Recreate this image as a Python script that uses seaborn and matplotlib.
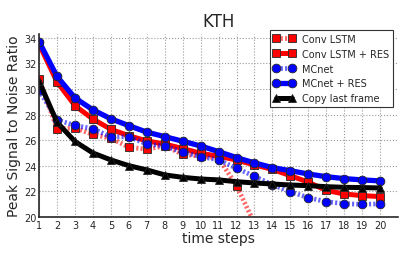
import numpy as np
import pandas as pd
import matplotlib
matplotlib.use("Agg")
import matplotlib.pyplot as plt
import seaborn as sns

# PSNR per predicted time step on KTH
steps = list(range(1, 21))
conv_lstm = [30.8, 26.9, 26.95, 26.45, 26.15, 25.45, 25.3, 25.55, 24.9, 24.75,
             24.6, 22.45, 19.5]
conv_lstm_res = [33.5, 30.55, 28.7, 27.65, 26.85, 26.35, 25.95, 25.7, 25.35, 24.98,
                 24.75, 24.45, 24.07, 23.72, 23.23, 22.72, 22.08, 21.8, 21.67, 21.6]
mcnet = [29.9, 27.6, 27.15, 26.9, 26.25, 26.28, 25.7, 25.55, 25.08, 24.72,
         24.46, 23.81, 23.18, 22.52, 21.98, 21.51, 21.2, 21.04, 20.99, 21.03]
mcnet_res = [33.7, 30.98, 29.3, 28.37, 27.67, 27.14, 26.63, 26.28, 25.92, 25.55,
             25.11, 24.64, 24.23, 23.86, 23.62, 23.36, 23.15, 23.0, 22.9, 22.82]
copy_last = [30.6, 27.4, 25.9, 25.0, 24.46, 24.01, 23.68, 23.29, 23.1, 22.97,
             22.9, 22.76, 22.66, 22.58, 22.5, 22.45, 22.37, 22.32, 22.3, 22.27]

sns.set_style("white")
plt.rcParams['font.family'] = ['DejaVu Sans']

fig, ax = plt.subplots(figsize=(4.07, 2.55), dpi=100)
fig.subplots_adjust(left=0.096, right=0.978, bottom=0.145, top=0.863)

dots = (0, (0.45, 0.45))
series = [
    ("Conv LSTM", conv_lstm, (1, 0, 0, 0.6), "red", dots, "s", 3.4),
    ("Conv LSTM + RES", conv_lstm_res, (1, 0, 0, 1), "red", "-", "s", 3.6),
    ("MCnet", mcnet, (0, 0, 1, 0.6), "blue", dots, "o", 3.4),
    ("MCnet + RES", mcnet_res, (0, 0, 1, 1), "blue", "-", "o", 3.8),
    ("Copy last frame", copy_last, (0, 0, 0, 1), "black", "-", "^", 3.6),
]

for name, vals, lc, mc, ls, mk, lw in series:
    df = pd.DataFrame({"step": steps[:len(vals)], "psnr": vals})
    sns.lineplot(data=df, x="step", y="psnr", ax=ax, label=name,
                 color=lc, linestyle=ls, linewidth=lw, marker=mk,
                 markersize=6.3, markerfacecolor=mc, markeredgecolor="0.15",
                 markeredgewidth=0.6)

ax.set_xlim(1, 21)
ax.set_ylim(20, 34.3)
ax.set_xticks(steps)
ax.set_yticks(np.arange(20, 35, 2))
ax.tick_params(labelsize=7, length=0, pad=2)
ax.grid(True, linestyle=":", color="0.6", linewidth=0.8)
for side in ["top", "right"]:
    ax.spines[side].set_visible(False)
for side in ["left", "bottom"]:
    ax.spines[side].set_color("0.15")
    ax.spines[side].set_linewidth(1.2)

ax.set_title("KTH", fontsize=12, pad=6)
ax.set_xlabel("time steps", fontsize=10, labelpad=1)
ax.set_ylabel("Peak Signal to Noise Ratio", fontsize=10, labelpad=2)

leg = ax.legend(loc="upper right", bbox_to_anchor=(0.985, 1.022), fontsize=7,
                handlelength=2.2, handletextpad=0.7, labelspacing=0.5,
                borderpad=0.4, frameon=True, fancybox=False, numpoints=2,
                borderaxespad=0, framealpha=1)
leg.get_frame().set_edgecolor("0.2")
leg.get_frame().set_linewidth(0.8)

fig.savefig("out.png", dpi=100)
